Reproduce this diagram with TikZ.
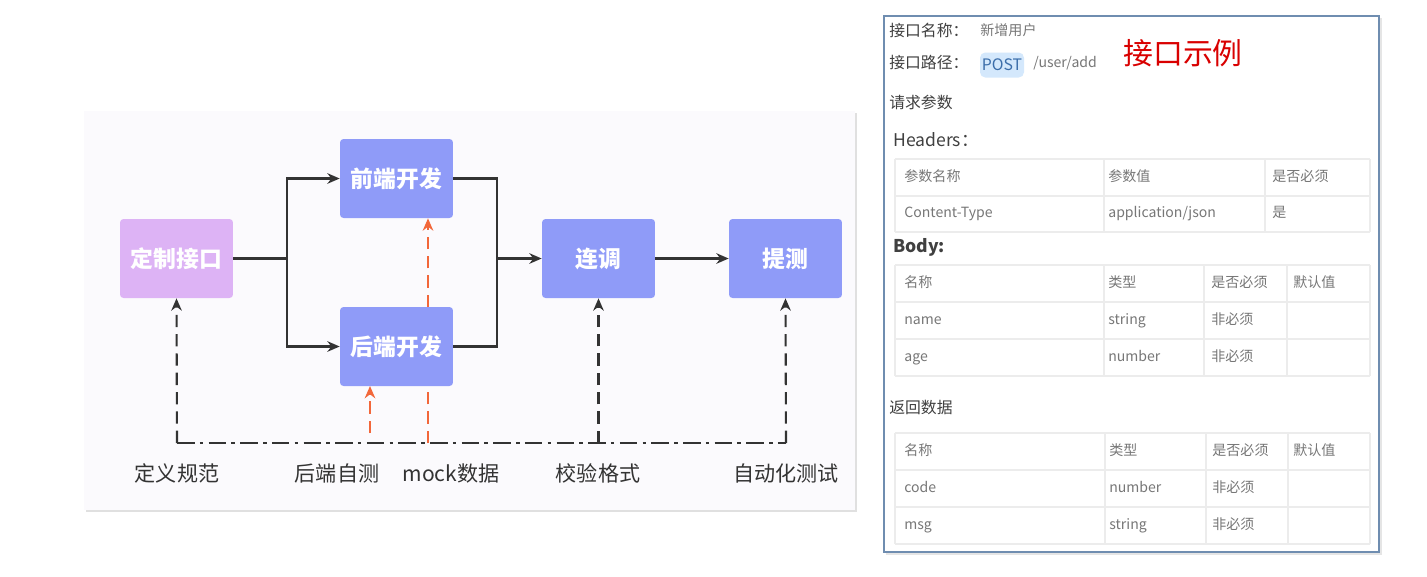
\documentclass[tikz,border=0pt]{standalone}
\usepackage{fontspec}
\setmainfont{Noto Sans CJK SC}
\usetikzlibrary{arrows.meta}
\definecolor{boxp}{HTML}{8F9BF8}
\definecolor{boxv}{HTML}{DDB3F5}
\definecolor{orng}{HTML}{F2673A}
\definecolor{frame}{HTML}{6F8DB0}
\definecolor{tline}{HTML}{ECECEC}
\definecolor{tgray}{HTML}{777777}
\definecolor{panel}{HTML}{FBFAFD}
\tikzset{
 x=0.02cm,y=-0.02cm,
 stepbox/.style={rounded corners=2pt,minimum width=2.26cm,minimum height=1.58cm,text=white,font=\bfseries\fontsize{13}{13}\selectfont,inner sep=0},
 flow/.style={line width=1.2pt,draw=black!80,-{Stealth[length=7pt,width=6pt]}},
 plain/.style={line width=1.2pt,draw=black!80},
 back/.style={line width=1.2pt,draw=black!80,dash pattern=on 7pt off 4pt,-{Stealth[length=7pt,width=6pt]}},
 backo/.style={line width=1.2pt,draw=orng,dash pattern=on 7pt off 4pt,-{Stealth[length=7pt,width=6pt]}},
 lbl/.style={font=\fontsize{12}{12}\selectfont,text=black!80},
 small/.style={font=\fontsize{8}{8}\selectfont,text=tgray,anchor=west,inner sep=0,text height=6pt,text depth=2pt},
 head/.style={font=\fontsize{9}{9}\selectfont,text=black!75,anchor=west,inner sep=0,text height=7pt,text depth=2pt},
 tl/.style={draw=tline,line width=0.6pt}
}
\begin{document}
\begin{tikzpicture}
\useasboundingbox (0,0) rectangle (1427,576);
\fill[white] (0,0) rectangle (1427,576);
% left panel
\fill[black!12] (86,113) rectangle (857,512);
\fill[panel] (84,111) rectangle (855,510);
\node[stepbox,fill=boxv] (dz) at (176.5,258.5) {定制接口};
\node[stepbox,fill=boxp] (qd) at (396.5,178.5) {前端开发};
\node[stepbox,fill=boxp] (hd) at (396.5,346.5) {后端开发};
\node[stepbox,fill=boxp] (lt) at (598.5,258.5) {连调};
\node[stepbox,fill=boxp] (tc) at (785.5,258.5) {提测};
\coordinate (s1) at (287,258.5);
\coordinate (m1) at (497,258.5);
\draw[plain] (dz.east) -- (s1);
\draw[flow] (s1) |- (qd.west);
\draw[flow] (s1) |- (hd.west);
\draw[plain] (qd.east) -| (m1);
\draw[plain] (hd.east) -| (m1);
\draw[flow] (m1) -- (lt.west);
\draw[flow] (lt.east) -- (tc.west);
% bottom dash-dot
\coordinate (b1) at (177,443);
\coordinate (b2) at (786,443);
\draw[line width=1.2pt,draw=black!80,dash pattern=on 10pt off 3pt on 2pt off 3pt] (b1) -- (b2);
\draw[back] (b1) -- (dz.south);
\coordinate (b3) at (598.5,443);
\draw[back] (b3) -- (lt.south);
\draw[back] (b2) -- (tc.south);
\coordinate (o1) at (370,433);
\coordinate (o2) at (428,443);
\coordinate (o3) at (428,307);
\draw[backo] (o1) -- (370,386);
\draw[line width=1.2pt,draw=orng,dash pattern=on 7pt off 4pt] (o2) -- (428,386);
\draw[backo] (o3) -- (qd.south -| o3);
\node[lbl] (l1) at (177,473) {定义规范};
\node[lbl] (l2) at (337,473) {后端自测};
\node[lbl] (l3) at (451,473) {mock数据};
\node[lbl] (l4) at (598,473) {校验格式};
\node[lbl] (l5) at (786,473) {自动化测试};
% right panel
\fill[black!10] (886,18) rectangle (1382,555);
\draw[frame,line width=1.5pt,fill=white] (884,16) rectangle (1379,552);
\node[head] (k1) at (889,32) {接口名称：};
\node[small] (v1) at (980,32) {新增用户};
\node[head] (k2) at (889,64) {接口路径：};
\node[fill={rgb,255:red,212;green,232;blue,252},rounded corners=3pt,text={rgb,255:red,60;green,110;blue,170},font=\fontsize{9}{9}\selectfont,minimum width=0.88cm,minimum height=0.5cm,inner sep=0] (post) at (1002,65) {POST};
\node[small] (v2) at (1033,64) {/user/add};
\node[text=red!85!black,font=\fontsize{17}{17}\selectfont] (title) at (1183,53) {接口示例};
\node[head] (rq) at (889,104) {请求参数};
\node[head,font=\fontsize{10}{10}\selectfont] (hh) at (893,142) {Headers：};
% header table
\draw[tl] (895,159) -- (1370,159) (895,196) -- (1370,196) (895,232) -- (1370,232);
\draw[tl] (895,159) -- (895,232) (1104,159) -- (1104,232) (1265,159) -- (1265,232) (1370,159) -- (1370,232);
\node[small] (h11) at (904,178) {参数名称};
\node[small] (h12) at (1108,178) {参数值};
\node[small] (h13) at (1272,178) {是否必须};
\node[small] (h21) at (904,214) {Content-Type};
\node[small] (h22) at (1108,214) {application/json};
\node[small] (h23) at (1272,214) {是};
\node[head,font=\bfseries\fontsize{10}{10}\selectfont] (bd) at (893,248) {Body:};
% body table
\draw[tl] (895,265) -- (1370,265) (895,302) -- (1370,302) (895,339) -- (1370,339) (895,376) -- (1370,376);
\draw[tl] (895,265) -- (895,376) (1104,265) -- (1104,376) (1204,265) -- (1204,376) (1287,265) -- (1287,376) (1370,265) -- (1370,376);
\node[small] (b11) at (904,284) {名称};
\node[small] (b12) at (1108,284) {类型};
\node[small] (b13) at (1211,284) {是否必须};
\node[small] (b14) at (1293,284) {默认值};
\node[small] (b21) at (904,321) {name};
\node[small] (b22) at (1108,321) {string};
\node[small] (b23) at (1211,321) {非必须};
\node[small] (b31) at (904,358) {age};
\node[small] (b32) at (1108,358) {number};
\node[small] (b33) at (1211,358) {非必须};
\node[head] (rt) at (889,409) {返回数据};
% return table
\draw[tl] (895,433) -- (1370,433) (895,470) -- (1370,470) (895,507) -- (1370,507) (895,544) -- (1370,544);
\draw[tl] (895,433) -- (895,544) (1105,433) -- (1105,544) (1206,433) -- (1206,544) (1288,433) -- (1288,544) (1370,433) -- (1370,544);
\node[small] (r11) at (904,452) {名称};
\node[small] (r12) at (1109,452) {类型};
\node[small] (r13) at (1212,452) {是否必须};
\node[small] (r14) at (1293,452) {默认值};
\node[small] (r21) at (904,489) {code};
\node[small] (r22) at (1109,489) {number};
\node[small] (r23) at (1212,489) {非必须};
\node[small] (r31) at (904,526) {msg};
\node[small] (r32) at (1109,526) {string};
\node[small] (r33) at (1212,526) {非必须};
\end{tikzpicture}
\end{document}
